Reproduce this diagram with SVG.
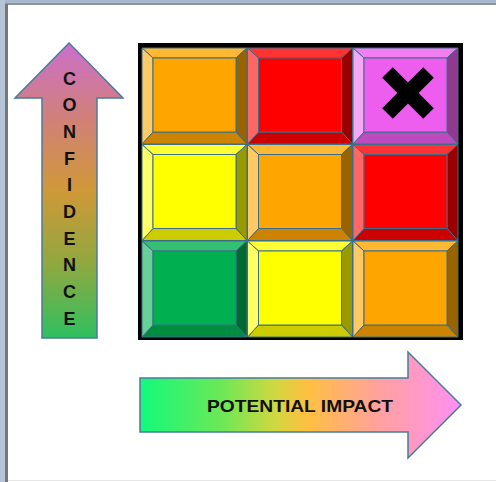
<svg xmlns="http://www.w3.org/2000/svg" width="496" height="482" viewBox="0 0 496 482">
  <style>
    .bv { stroke: #3b6e8a; stroke-width: 1; stroke-linejoin: round; }
    .t { fill: var(--t); } .l { fill: var(--l); } .r { fill: var(--r); } .b { fill: var(--b); } .c { fill: var(--c); }
    .orange { --c: #ffa500; --t: #ffb833; --l: #ffc966; --r: #996300; --b: #cc8400; }
    .red { --c: #ff0000; --t: #ff3333; --l: #ff6666; --r: #990000; --b: #cc0000; }
    .yellow { --c: #ffff00; --t: #ffff33; --l: #ffff66; --r: #999900; --b: #cccc00; }
    .green { --c: #00b050; --t: #33c073; --l: #66d096; --r: #006a30; --b: #008d40; }
    .pink { --c: #ee5eee; --t: #f17ff1; --l: #f5a8f5; --r: #8f3a8f; --b: #be4bbe; }
    .arrow { stroke: #4a7c9c; stroke-width: 1.5; stroke-linejoin: miter; }
    .lbl { font-family: "Liberation Sans", Arial, sans-serif; font-weight: bold; fill: #111; }
  </style>
  <defs>
    <g id="bevel">
      <polygon class="bv t" points="0,0 105,0 94,10 11,10"/>
      <polygon class="bv r" points="105,0 105,96 94,84 94,10"/>
      <polygon class="bv b" points="0,96 105,96 94,84 11,84"/>
      <polygon class="bv l" points="0,0 11,10 11,84 0,96"/>
      <rect class="bv c" x="11" y="10" width="83" height="74"/>
    </g>
    <linearGradient id="gUp" x1="0" y1="0" x2="0" y2="1">
      <stop offset="0" stop-color="#cc6fcc"/>
      <stop offset="0.25" stop-color="#d0807a"/>
      <stop offset="0.5" stop-color="#d09838"/>
      <stop offset="0.75" stop-color="#90a840"/>
      <stop offset="1" stop-color="#2ec060"/>
    </linearGradient>
    <linearGradient id="gRight" x1="0" y1="0" x2="1" y2="0">
      <stop offset="0" stop-color="#12fa7c"/>
      <stop offset="0.25" stop-color="#6ae858"/>
      <stop offset="0.42" stop-color="#d0d840"/>
      <stop offset="0.52" stop-color="#ffc040"/>
      <stop offset="0.75" stop-color="#ffa0a0"/>
      <stop offset="1" stop-color="#ff90f4"/>
    </linearGradient>
  </defs>

  <!-- frame -->
  <rect x="0" y="0" width="496" height="482" fill="#ffffff"/>
  <rect x="0" y="0" width="496" height="4" fill="#aab8cc"/>
  <rect x="0" y="3" width="496" height="2" fill="#8a96a8"/>
  <rect x="0" y="0" width="5" height="482" fill="#b6c4d8"/>
  <rect x="5" y="4" width="3" height="478" fill="#777777"/>
  <rect x="8" y="480" width="488" height="1" fill="#e6e6e6"/>

  <!-- grid -->
  <g id="grid">
    <rect x="138" y="43" width="325" height="297" fill="#000000"/>
    <g id="cell-1-1" class="orange"><use href="#bevel" transform="translate(142,48)"/></g>
    <g id="cell-1-2" class="red"><use href="#bevel" transform="translate(247.5,48)"/></g>
    <g id="cell-1-3" class="pink"><use href="#bevel" transform="translate(353,48)"/>
      <polygon fill="#000000" transform="translate(408,93) rotate(45)" points="-7.5,-29 7.5,-29 7.5,-7.5 29,-7.5 29,7.5 7.5,7.5 7.5,29 -7.5,29 -7.5,7.5 -29,7.5 -29,-7.5 -7.5,-7.5"/>
    </g>
    <g id="cell-2-1" class="yellow"><use href="#bevel" transform="translate(142,144.5)"/></g>
    <g id="cell-2-2" class="orange"><use href="#bevel" transform="translate(247.5,144.5)"/></g>
    <g id="cell-2-3" class="red"><use href="#bevel" transform="translate(353,144.5)"/></g>
    <g id="cell-3-1" class="green"><use href="#bevel" transform="translate(142,241)"/></g>
    <g id="cell-3-2" class="yellow"><use href="#bevel" transform="translate(247.5,241)"/></g>
    <g id="cell-3-3" class="orange"><use href="#bevel" transform="translate(353,241)"/></g>
  </g>

  <!-- confidence arrow -->
  <g id="confidence">
    <polygon class="arrow" fill="url(#gUp)" points="69,43 123,98 97,98 97,338 42,338 42,98 15,98"/>
    <g class="lbl" font-size="18" text-anchor="middle">
      <text x="69.5" y="84.5">C</text>
      <text x="69.5" y="111.2">O</text>
      <text x="69.5" y="137.9">N</text>
      <text x="69.5" y="164.6">F</text>
      <text x="69.5" y="191.3">I</text>
      <text x="69.5" y="218">D</text>
      <text x="69.5" y="244.7">E</text>
      <text x="69.5" y="271.4">N</text>
      <text x="69.5" y="298.1">C</text>
      <text x="69.5" y="324.8">E</text>
    </g>
  </g>

  <!-- potential impact arrow -->
  <g id="impact">
    <polygon class="arrow" fill="url(#gRight)" points="140,378 408,378 408,352 461,405 408,458 408,432 140,432"/>
    <text class="lbl" x="207" y="411.5" font-size="17" textLength="186" lengthAdjust="spacingAndGlyphs">POTENTIAL IMPACT</text>
  </g>
</svg>
